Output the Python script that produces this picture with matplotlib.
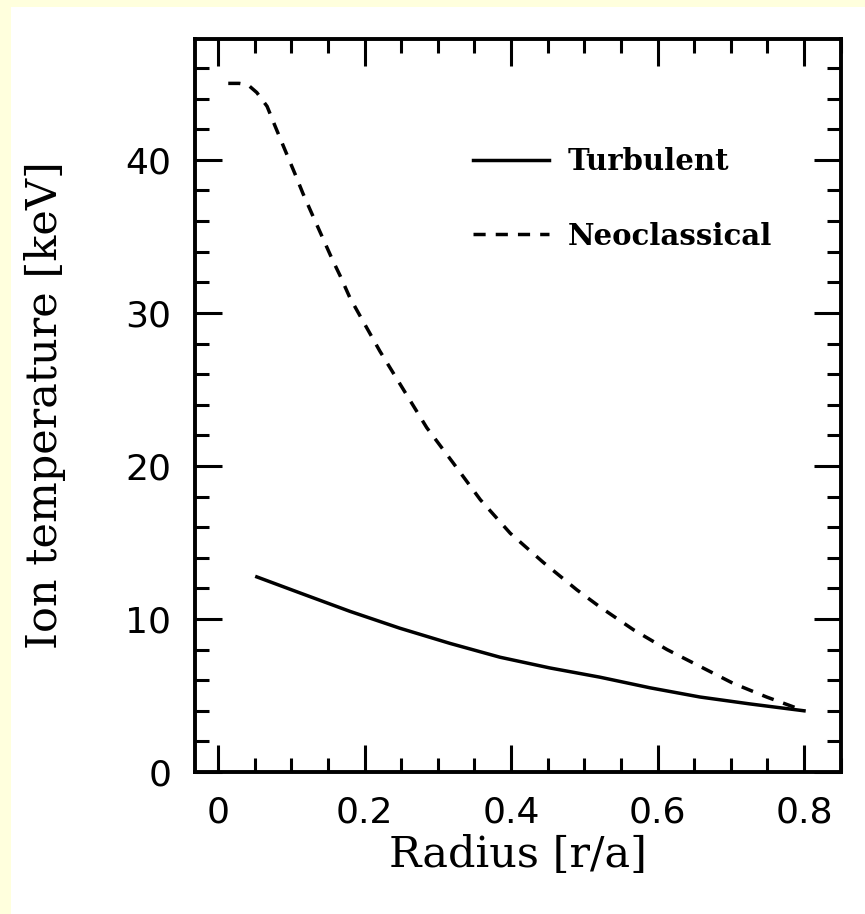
import matplotlib
matplotlib.use('Agg')
import matplotlib.pyplot as plt
from matplotlib.patches import Rectangle
from matplotlib.ticker import MultipleLocator, FuncFormatter

# Neoklassisk profil (streckad)
r_neo = [0.014, 0.029, 0.041, 0.053, 0.067, 0.078, 0.091, 0.105, 0.116, 0.128,
         0.142, 0.156, 0.167, 0.180, 0.194, 0.221, 0.253, 0.285, 0.321, 0.358,
         0.399, 0.444, 0.490, 0.521, 0.567, 0.613, 0.658, 0.703, 0.749, 0.800]
t_neo = [45.0, 45.0, 44.9, 44.4, 43.5, 42.2, 40.7, 39.1, 37.8, 36.5,
         35.0, 33.5, 32.4, 31.0, 29.8, 27.5, 25.0, 22.5, 20.2, 17.8,
         15.6, 13.7, 11.9, 10.8, 9.3, 8.0, 6.9, 5.8, 4.9, 4.0]

# Turbulent profil (heldragen)
r_turb = [0.053, 0.112, 0.180, 0.248, 0.317, 0.385, 0.453, 0.521, 0.590, 0.658, 0.726, 0.800]
t_turb = [12.75, 11.7, 10.5, 9.4, 8.4, 7.5, 6.8, 6.2, 5.5, 4.9, 4.45, 4.0]

labels = ['Turbulent', 'Neoclassical']

fig = plt.figure(figsize=(8.65, 9.14), dpi=100, facecolor='#FFFFDD')
# vit panel ovanpå den gula bakgrunden
fig.patches.append(Rectangle((11 / 865, 0), 1 - 11 / 865, 1 - 7 / 914,
                             transform=fig.transFigure, facecolor='white',
                             edgecolor='none', zorder=-10))

ax = fig.add_axes([195 / 865, 1 - 772 / 914, 646 / 865, 733 / 914])
ax.set_zorder(5)

l1, = ax.plot(r_turb, t_turb, color='black', lw=2.5)
l2, = ax.plot(r_neo, t_neo, color='black', lw=2.5, linestyle=(0, (3.5, 2.9)))

ax.set_xlim(-0.0314, 0.8505)
ax.set_ylim(0, 47.9)

for s in ax.spines.values():
    s.set_linewidth(2.8)

ax.xaxis.set_major_locator(MultipleLocator(0.2))
ax.xaxis.set_minor_locator(MultipleLocator(0.05))
ax.yaxis.set_major_locator(MultipleLocator(10))
ax.yaxis.set_minor_locator(MultipleLocator(2))
ax.tick_params(which='both', direction='in', top=True, right=True, width=2.2)
ax.tick_params(which='major', length=19.5, pad=17, labelsize=26)
ax.tick_params(which='minor', length=10)
ax.xaxis.set_major_formatter(FuncFormatter(lambda v, p: '0' if abs(v) < 1e-9 else f'{v:.1f}'))

ax.set_xlabel('Radius [r/a]', fontsize=31, family='DejaVu Serif')
ax.set_ylabel('Ion temperature [keV]', fontsize=31, family='DejaVu Serif')
ax.xaxis.set_label_coords(0.5, -0.113)
ax.xaxis.label.set_va('center')
ax.yaxis.set_label_coords(-0.232, 0.5)
ax.yaxis.label.set_va('center')

leg = ax.legend([l1, l2], labels, loc='upper left', bbox_to_anchor=(0.43, 0.852),
                frameon=False, borderpad=0, borderaxespad=0,
                handlelength=2.6, handletextpad=0.65, labelspacing=1.55,
                prop={'family': 'DejaVu Serif', 'weight': 'bold', 'size': 21})

fig.savefig('out.png', dpi=100, facecolor=fig.get_facecolor())
